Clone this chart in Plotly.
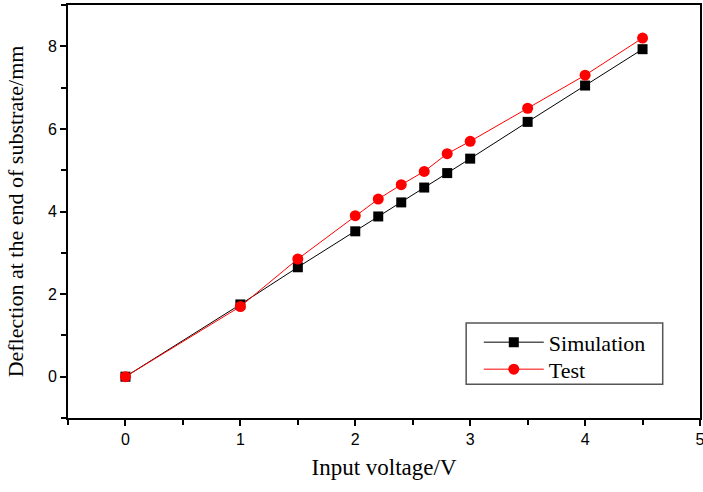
import plotly.graph_objects as go

voltage = [0, 1, 1.5, 2, 2.2, 2.4, 2.6, 2.8, 3, 3.5, 4, 4.5]
simulation = [0, 1.75, 2.65, 3.52, 3.88, 4.22, 4.58, 4.93, 5.28, 6.17, 7.05, 7.93]
test = [0, 1.70, 2.85, 3.90, 4.30, 4.65, 4.97, 5.40, 5.70, 6.50, 7.30, 8.20]
x_ticks = [0, 1, 2, 3, 4, 5]
y_ticks = [0, 2, 4, 6, 8]

fig = go.Figure()
fig.add_trace(go.Scatter(
    x=voltage, y=simulation, name="Simulation", mode="lines+markers",
    line=dict(color="black", width=1),
    marker=dict(symbol="square", size=10, color="black"),
    legend="legend", showlegend=True,
))
fig.add_trace(go.Scatter(
    x=voltage, y=test, name="Test", mode="lines+markers",
    line=dict(color="red", width=1),
    marker=dict(symbol="circle", size=11, color="red"),
    legend="legend2", showlegend=True,
))

axis_common = dict(
    showgrid=False, zeroline=False, showline=True, linecolor="black", linewidth=2,
    mirror=True, ticks="outside", ticklen=6, tickwidth=2, tickcolor="black",
    automargin=False, ticklabeloverflow="allow",
    tickfont=dict(family="Liberation Sans, Arial", size=16, color="black"),
)

fig.update_xaxes(
    range=[-0.5, 5], tickvals=x_ticks,
    minor=dict(dtick=0.5, ticks="outside", ticklen=5, tickwidth=2, tickcolor="black"),
    title=dict(text="Input voltage/V", font=dict(family="Liberation Serif, Times New Roman", size=23, color="black"), standoff=12),
    **axis_common,
)
fig.update_yaxes(
    range=[-1, 9], tickvals=y_ticks,
    minor=dict(dtick=1, ticks="outside", ticklen=5, tickwidth=2, tickcolor="black"),
    title=dict(text="Deflection at the end of substrate/mm", font=dict(family="Liberation Serif, Times New Roman", size=22, color="black"), standoff=18),
    **axis_common,
)

# legend frame
fig.add_shape(type="rect", xref="paper", yref="paper",
              x0=0.630, x1=0.941, y0=0.082, y1=0.230,
              line=dict(color="#555", width=1.5), fillcolor="white", layer="above")

legend_style = dict(
    xanchor="left", yanchor="top",
    borderwidth=0, bgcolor="rgba(0,0,0,0)",
    font=dict(family="Liberation Serif, Times New Roman", size=22, color="black"),
    itemwidth=60, tracegroupgap=0, visible=True,
)

fig.update_layout(
    width=703, height=492,
    margin=dict(l=68, r=3, t=5, b=74),
    plot_bgcolor="white", paper_bgcolor="white",
    showlegend=True,
    legend=dict(x=0.650, y=0.234, **legend_style),
    legend2=dict(x=0.650, y=0.1686, **legend_style),
)

fig.write_html("out.html", post_script="document.body.style.margin='0px';",
               config={"displayModeBar": False})
